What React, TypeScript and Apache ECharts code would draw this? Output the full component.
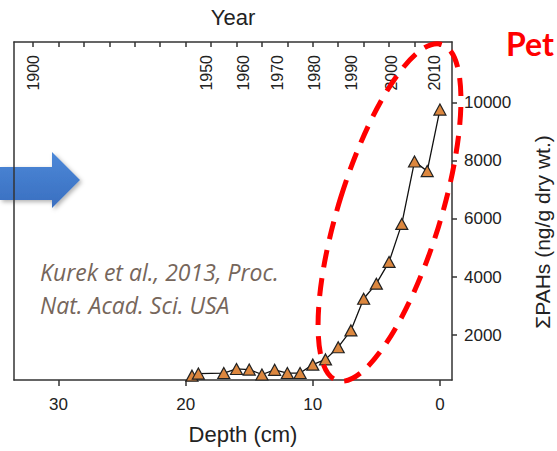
import React, { useEffect, useRef } from "react";
import * as echarts from "echarts";

// Depth (cm) of each core slice
const depths = [19.5, 19, 17, 16, 15, 14, 13, 12, 11, 10, 9, 8, 7, 6, 5, 4, 3, 2, 1, 0];
// ΣPAHs (ng/g dry wt.)
const pahs = [600, 670, 690, 830, 810, 640, 800, 690, 690, 980, 1160, 1580, 2160, 3250, 3770, 4520, 5830, 7980, 7650, 9770];

// bottom axis tick labels (depth)
const depthTicks = [0, 10, 20, 30];
// right axis tick labels
const pahTicks = [2000, 4000, 6000, 8000, 10000];
// top axis: years and the depth at which each one sits
const years = [1900, 1950, 1960, 1970, 1980, 1990, 2000, 2010];
const yearDepths = [32.0, 18.35, 15.43, 12.76, 9.84, 6.93, 3.8, 0.39];
// top axis minor ticks (every 2 cm)
const topTicks = [0, 2, 4, 6, 8, 10, 12, 14, 16, 18, 20, 22, 24, 26, 28, 30, 32];

const X_MIN = -0.95;
const X_MAX = 33.5;
const Y_MIN = 450;
const Y_MAX = 12100;

const FONT = "'Liberation Sans', Arial, sans-serif";

export default function App() {
  const ref = useRef<HTMLDivElement>(null);

  useEffect(() => {
    if (!ref.current) return;
    const chart = echarts.init(ref.current, null, { renderer: "svg" });
    const axisLine = { show: true, onZero: false, lineStyle: { color: "#333", width: 1.5 } };

    chart.setOption({
      animation: false,
      backgroundColor: "#ffffff",
      grid: {
        left: 14,
        right: 105,
        top: 42,
        bottom: 71,
        containLabel: false,
        outerBoundsMode: "none",
      },
      xAxis: [
        {
          type: "value",
          position: "bottom",
          inverse: true,
          min: X_MIN,
          max: X_MAX,
          name: "Depth (cm)",
          nameLocation: "middle",
          nameGap: 43,
          nameTextStyle: { fontFamily: FONT, fontSize: 22, color: "#222", padding: [0, 0, 0, 20] },
          axisLine,
          axisTick: { show: true, inside: false, length: 6, customValues: depthTicks, lineStyle: { color: "#333", width: 1.5 } },
          axisLabel: {
            show: true,
            customValues: depthTicks,
            fontFamily: FONT,
            fontSize: 17,
            color: "#222",
            margin: 16,
            formatter: (v: number) => String(v),
          },
          splitLine: { show: false },
        },
        {
          type: "value",
          position: "top",
          inverse: true,
          min: X_MIN,
          max: X_MAX,
          name: "Year",
          nameLocation: "middle",
          nameGap: 14,
          nameTextStyle: { fontFamily: FONT, fontSize: 22, color: "#222" },
          axisLine,
          axisTick: { show: true, inside: true, length: 5, customValues: topTicks, lineStyle: { color: "#333", width: 1.5 } },
          axisLabel: {
            show: true,
            inside: true,
            rotate: -90,
            margin: 13,
            customValues: yearDepths,
            fontFamily: FONT,
            fontSize: 16,
            color: "#222",
            formatter: (v: number) => {
              let best = 0;
              for (let i = 0; i < yearDepths.length; i++) {
                if (Math.abs(yearDepths[i] - v) < Math.abs(yearDepths[best] - v)) best = i;
              }
              return String(years[best]);
            },
          },
          splitLine: { show: false },
        },
      ],
      yAxis: [
        {
          type: "value",
          position: "right",
          min: Y_MIN,
          max: Y_MAX,
          name: "ΣPAHs (ng/g dry wt.)",
          nameLocation: "middle",
          nameGap: 80,
          nameTextStyle: { fontFamily: FONT, fontSize: 21, color: "#222", padding: [0, 42, 0, 0] },
          axisLine,
          axisTick: { show: true, inside: false, length: 5, customValues: pahTicks, lineStyle: { color: "#333", width: 1.5 } },
          axisLabel: {
            show: true,
            customValues: pahTicks,
            fontFamily: FONT,
            fontSize: 17,
            color: "#222",
            margin: 12,
            formatter: (v: number) => String(v),
          },
          splitLine: { show: false },
        },
        {
          type: "value",
          position: "left",
          min: Y_MIN,
          max: Y_MAX,
          axisLine,
          axisTick: { show: false },
          axisLabel: { show: false },
          splitLine: { show: false },
        },
      ],
      series: [
        {
          type: "line",
          xAxisIndex: 0,
          yAxisIndex: 0,
          data: depths.map((d, i) => [d, pahs[i]]),
          symbol: "triangle",
          symbolSize: [12, 11],
          showAllSymbol: true,
          lineStyle: { color: "#111", width: 1.3 },
          itemStyle: { color: "#dc873f", borderColor: "#222", borderWidth: 1.2 },
          z: 3,
        },
      ],
      graphic: [
        {
          type: "polygon",
          z: -10,
          shape: {
            points: [
              [0, 167],
              [52, 167],
              [52, 152],
              [80, 180],
              [52, 208],
              [52, 200],
              [0, 200],
            ],
          },
          style: {
            fill: new echarts.graphic.LinearGradient(0, 0, 0, 1, [
              { offset: 0, color: "#4c88d8" },
              { offset: 1, color: "#3a6fc0" },
            ]),
            shadowBlur: 4,
            shadowOffsetX: 2,
            shadowOffsetY: 2,
            shadowColor: "rgba(0,0,0,0.3)",
          },
        },
        {
          type: "text",
          x: 40,
          y: 255,
          z: 10,
          style: {
            text: "Kurek et al., 2013, Proc.\nNat. Acad. Sci. USA",
            font: "italic 23px 'Open Sans', Lato, sans-serif",
            fill: "#76665b",
            lineHeight: 33,
            align: "left",
            verticalAlign: "top",
          },
        },
        {
          type: "text",
          x: 506,
          y: 43,
          z: 10,
          style: {
            text: "Pet",
            font: "bold 32px Lato, 'Open Sans', sans-serif",
            fill: "#ff0000",
            align: "left",
            verticalAlign: "middle",
          },
        },
        {
          type: "ellipse",
          x: 389.5,
          y: 212.5,
          rotation: -0.302,
          z: 100,
          shape: { cx: 0, cy: 0, rx: 51, ry: 176 },
          style: { fill: "none", stroke: "#ff0000", lineWidth: 5, lineDash: [18, 11] },
        },
      ],
    });

    return () => chart.dispose();
  }, []);

  return (
    <div
      ref={ref}
      style={{ position: "fixed", left: 0, top: 0, width: 557, height: 451, background: "#fff" }}
    />
  );
}
